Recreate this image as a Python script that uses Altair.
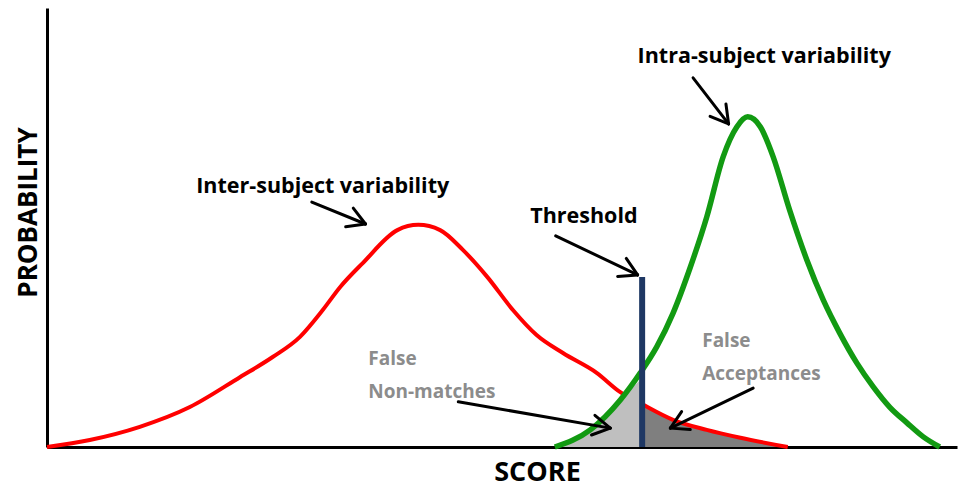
import math
import altair as alt
import pandas as pd

# ---- data (x = score 0..100, y = probability 0..100) ----
red_x = [0, 4.7, 10.2, 15.7, 21.2, 24.8, 27.8, 30.3, 32.2, 34.7, 38.5, 40.8, 43.2, 45.7,
         48.4, 51.2, 53.8, 56.7, 60.4, 63.0, 65.2, 68.8, 72.5, 76.2, 81.4]
red_y = [0, 1.6, 4.6, 9.1, 15.9, 20.5, 25.1, 31.2, 36.4, 41.9, 49.4, 50.6, 49.4, 44.9,
         38.7, 31.2, 25.5, 21.4, 16.9, 12.5, 10.0, 6.2, 3.9, 2.1, 0]

green_x = [55.8, 59.7, 63.0, 65.2, 67.0, 68.8, 70.7, 72.5, 74.3, 75.8, 77.0, 78.4, 79.8,
           81.6, 83.5, 85.3, 87.1, 89.0, 90.8, 92.6, 94.5, 96.3, 98.1]
green_y = [0, 3.9, 10.7, 16.9, 22.8, 30.5, 41.0, 52.4, 66.1, 72.9, 75.2, 72.9, 66.1,
           54.0, 42.6, 33.5, 26.0, 19.1, 13.7, 9.1, 5.5, 2.3, 0]

# shaded regions (boundaries)
fnm_x = [55.8, 59.7, 63.0, 65.4]
fnm_y = [0, 3.9, 10.7, 15.7]
fa_x = [65.4, 68.8, 72.5, 76.2, 81.4]
fa_y = [9.8, 6.2, 3.9, 2.1, 0]

threshold_x = 65.4
threshold_top = 38.7

# arrows: start (x, y) -> tip (x, y)
arrow_x1 = [29.1, 71.0, 55.9, 45.2, 77.6]
arrow_y1 = [55.8, 84.1, 48.1, 10.3, 13.4]
arrow_x2 = [35.0, 74.9, 64.9, 61.9, 68.5]
arrow_y2 = [50.8, 73.6, 39.2, 4.3, 4.3]

label_text = ["Inter-subject variability", "Intra-subject variability", "Threshold"]
label_x = [16.4, 64.9, 53.1]
label_y = [57.9, 87.5, 51.0]

gray_text = ["False", "Non-matches", "False", "Acceptances"]
gray_x = [35.3, 35.3, 72.0, 72.0]
gray_y = [18.7, 11.2, 22.8, 15.3]

# ---- layout ----
W, H = 910, 439
SX, SY = W / 100.0, H / 100.0
FONT = "Open Sans"

xs = alt.Scale(domain=[0, 100], nice=False, zero=False)
ys = alt.Scale(domain=[0, 100], nice=False, zero=False)
xaxis = alt.Axis(title="SCORE", labels=False, ticks=False, grid=False,
                 domainColor="black", domainWidth=3,
                 titleFont=FONT, titleFontSize=27, titleFontWeight="bold",
                 titleColor="black", titleX=490, titleY=25,
                 titleAlign="center", titleBaseline="middle")
yaxis = alt.Axis(title="PROBABILITY", labels=False, ticks=False, grid=False,
                 domainColor="black", domainWidth=3,
                 titleFont=FONT, titleFontSize=26, titleFontWeight="bold",
                 titleColor="black", titleX=-19, titleY=204, titleAngle=270,
                 titleAlign="center", titleBaseline="middle")


def X(f):
    return alt.X(f, type="quantitative", scale=xs, axis=xaxis)


def Y(f):
    return alt.Y(f, type="quantitative", scale=ys, axis=yaxis)


red_df = pd.DataFrame({"x": red_x, "y": red_y})
green_df = pd.DataFrame({"x": green_x, "y": green_y})
fnm_df = pd.DataFrame({"x": fnm_x, "y": fnm_y})
fa_df = pd.DataFrame({"x": fa_x, "y": fa_y})

fa_area = alt.Chart(fa_df).mark_area(color="#7F7F7F", interpolate="monotone", opacity=1).encode(
    x=X("x"), y=Y("y"))
red_line = alt.Chart(red_df).mark_line(color="#FF0000", strokeWidth=4, interpolate="monotone").encode(
    x=X("x"), y=Y("y"))
fnm_area = alt.Chart(fnm_df).mark_area(color="#BFBFBF", interpolate="monotone", opacity=1).encode(
    x=X("x"), y=Y("y"))
green_line = alt.Chart(green_df).mark_line(color="#129A12", strokeWidth=5.5, interpolate="monotone").encode(
    x=X("x"), y=Y("y"))

thr_df = pd.DataFrame({"x": [threshold_x], "y": [0], "y2": [threshold_top]})
thr = alt.Chart(thr_df).mark_rule(color="#1F3864", strokeWidth=6).encode(
    x=X("x"), y=Y("y"), y2="y2")

# arrow shafts + heads
segs = []
HEAD_L, HEAD_A = 20.0, math.radians(30)
for x1, y1, x2, y2 in zip(arrow_x1, arrow_y1, arrow_x2, arrow_y2):
    segs.append((x1, y1, x2, y2))
    vx, vy = (x1 - x2) * SX, (y1 - y2) * SY
    n = math.hypot(vx, vy)
    vx, vy = vx / n, vy / n
    for a in (HEAD_A, -HEAD_A):
        rx = vx * math.cos(a) - vy * math.sin(a)
        ry = vx * math.sin(a) + vy * math.cos(a)
        segs.append((x2, y2, x2 + rx * HEAD_L / SX, y2 + ry * HEAD_L / SY))
seg_df = pd.DataFrame(segs, columns=["x", "y", "x2", "y2"])
arrows = alt.Chart(seg_df).mark_rule(color="black", strokeWidth=3, strokeCap="round").encode(
    x=X("x"), y=Y("y"), x2="x2", y2="y2")

lab_df = pd.DataFrame({"x": label_x, "y": label_y, "t": label_text})
labels = alt.Chart(lab_df).mark_text(align="left", baseline="alphabetic", font=FONT,
                                     fontWeight="bold", fontSize=21.5, color="black").encode(
    x=X("x"), y=Y("y"), text="t")

g_df = pd.DataFrame({"x": gray_x, "y": gray_y, "t": gray_text})
glabels = alt.Chart(g_df).mark_text(align="left", baseline="alphabetic", font=FONT,
                                    fontWeight="bold", fontSize=19, color="#8C8C8C").encode(
    x=X("x"), y=Y("y"), text="t")

chart = alt.layer(fa_area, red_line, fnm_area, green_line, thr, arrows, labels, glabels).properties(
    width=W, height=H,
    padding={"left": 39, "top": 0, "right": 4, "bottom": 40},
    autosize=alt.AutoSizeParams(type="none"),
    background="white",
).configure_view(strokeWidth=0)

chart.save("out.html", embed_options={"renderer": "svg", "actions": False})
